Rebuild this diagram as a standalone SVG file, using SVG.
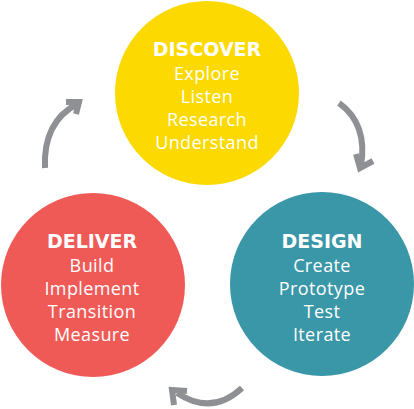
<svg xmlns="http://www.w3.org/2000/svg" width="414" height="409" viewBox="0 0 414 409">
<style>
.head{font-family:"DejaVu Sans","Liberation Sans",sans-serif;font-weight:bold;font-size:19px;fill:#fff;text-anchor:middle}
.item{font-family:"Open Sans","Liberation Sans",sans-serif;font-size:18px;letter-spacing:0.4px;fill:#fff;text-anchor:middle}
.arr{fill:none;stroke:#8e9093;stroke-width:6}
.hd{fill:none;stroke:#8e9093;stroke-width:6;stroke-linejoin:miter}
</style>
<rect width="414" height="409" fill="#fff"/>
<g id="connectors">
<path class="arr" d="M339,103 Q368,124 361,166"/>
<polyline class="hd" points="356,154 360,168 373,161"/>
<path class="arr" d="M242,388 Q212,416 177,393"/>
<polyline class="hd" points="174,405 172,390 187,391"/>
<path class="arr" d="M45,168 Q43,122 77,104"/>
<polyline class="hd" points="66,102 79,102 76,114"/>
</g>
<g id="discover">
<circle cx="207" cy="93" r="92" fill="#fcd900"/>
<text class="head" x="207" y="56">DISCOVER</text>
<text class="item" x="207" y="80">Explore</text>
<text class="item" x="207" y="103">Listen</text>
<text class="item" x="207" y="126">Research</text>
<text class="item" x="207" y="149">Understand</text>
</g>
<g id="deliver">
<circle cx="93" cy="285" r="92" fill="#f05a56"/>
<text class="head" x="92" y="248">DELIVER</text>
<text class="item" x="92" y="272">Build</text>
<text class="item" x="92" y="295">Implement</text>
<text class="item" x="92" y="318">Transition</text>
<text class="item" x="92" y="341">Measure</text>
</g>
<g id="design">
<circle cx="322" cy="284" r="92" fill="#3a97a8"/>
<text class="head" x="322" y="248">DESIGN</text>
<text class="item" x="322" y="272">Create</text>
<text class="item" x="322" y="295">Prototype</text>
<text class="item" x="322" y="318">Test</text>
<text class="item" x="322" y="341">Iterate</text>
</g>
</svg>
